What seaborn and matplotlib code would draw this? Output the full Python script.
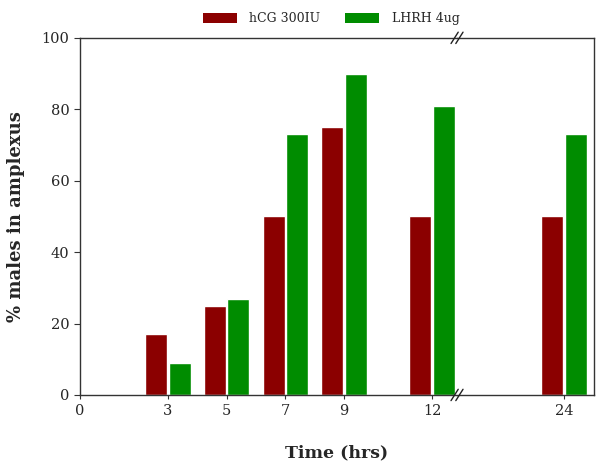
import numpy as np
import pandas as pd
import seaborn as sns
import matplotlib.pyplot as plt
from matplotlib.patches import Patch

hours = [3, 5, 7, 9, 12, 24]
hcg = [17, 25, 50, 75, 50, 50]
lhrh = [9, 27, 73, 90, 81, 73]
groups = ["hCG 300IU", "LHRH 4ug"]
colors = ["#8b0000", "#008c00"]
left_ticks = [0, 3, 5, 7, 9, 12]
right_ticks = [24]

df = pd.DataFrame({
    "Time": hours * 2,
    "pct": hcg + lhrh,
    "group": [groups[0]] * len(hours) + [groups[1]] * len(hours),
})

sns.set_style("ticks")
plt.rcParams["font.family"] = ["DejaVu Serif"]

fig = plt.figure(figsize=(6, 4.73), dpi=100)
ax1 = fig.add_axes([0.1333, 0.165, 0.6284, 0.755])
ax2 = fig.add_axes([0.7617, 0.165, 0.2283, 0.755], sharey=ax1)

# same data on both halves of the broken axis
for ax in (ax1, ax2):
    sns.barplot(data=df, x="Time", y="pct", hue="group", palette=colors,
                native_scale=True, width=0.8, gap=0.06, saturation=1,
                legend=False, ax=ax)
    ax.set_xlabel("")
    ax.set_ylabel("")
    for s in ax.spines.values():
        s.set_linewidth(1)
        s.set_color("#333333")
    ax.tick_params(axis="both", labelsize=10.5, direction="out", length=3,
                   width=0.8, color="#333333")

ax1.set_xlim(0, 12.85)
ax2.set_xlim(20.35, 25.02)
ax1.set_ylim(0, 100)
ax1.set_yticks([0, 20, 40, 60, 80, 100])
ax1.set_xticks(left_ticks)
ax2.set_xticks(right_ticks)
ax1.spines["right"].set_visible(False)
ax2.spines["left"].set_visible(False)
ax2.tick_params(axis="y", left=False, labelleft=False)
ax1.tick_params(axis="y", length=4)

# break marks
d = 0.006
for y in (0, 1):
    for off in (-0.004, 0.004):
        fig.lines.append(plt.Line2D([0.7617 + off - d, 0.7617 + off + d],
                                    [0.165 + y * 0.755 - 0.012, 0.165 + y * 0.755 + 0.012],
                                    transform=fig.transFigure, color="#222222", lw=1))

ax1.set_ylabel("% males in amplexus", fontsize=13, fontweight="bold", labelpad=12)
fig.text(0.561, 0.042, "Time (hrs)", fontsize=12.5, fontweight="bold", ha="center", va="center")

handles = [Patch(facecolor=c, edgecolor="none") for c in colors]
fig.legend(handles, groups, loc="center", bbox_to_anchor=(0.552, 0.96), ncol=2,
           frameon=False, fontsize=9, handlelength=2.7, handleheight=0.8,
           handletextpad=1.0, columnspacing=2.0)

fig.savefig("out.png", dpi=100)
